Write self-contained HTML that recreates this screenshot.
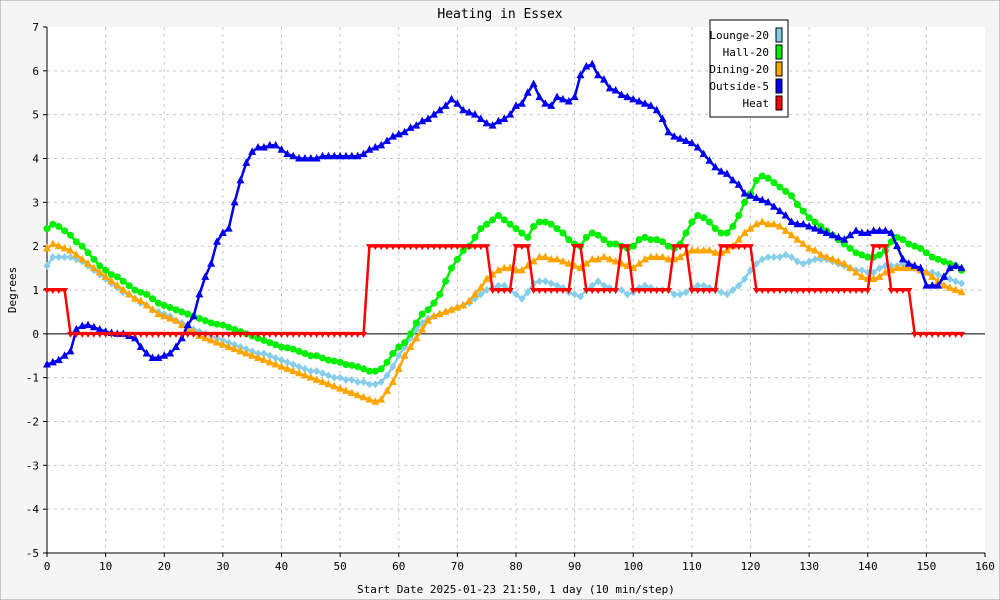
<!DOCTYPE html>
<html><head><meta charset="utf-8"><style>
html,body{margin:0;padding:0;background:#f5f5f5}
svg{display:block;font-family:"DejaVu Sans Mono","Liberation Mono",monospace}
</style></head><body>
<svg id="chart" width="1000" height="600" viewBox="0 0 1000 600">
<rect x="0" y="0" width="1000" height="600" fill="#f5f5f5" stroke="#999"/>
<rect x="47" y="27" width="938" height="526" fill="#ffffff"/>
<text x="500" y="18" text-anchor="middle" font-size="13">Heating in Essex</text>
<text x="516" y="593" text-anchor="middle" font-size="11">Start Date 2025-01-23 21:50, 1 day (10 min/step)</text>
<text x="16" y="290" text-anchor="middle" font-size="11" transform="rotate(-90 16 290)">Degrees</text>
<g id="grid"></g>
<g id="series"></g>
<g>
<rect x="710" y="20" width="78" height="97" fill="#fff" stroke="#000"/>
<g font-size="11" text-anchor="end">
<text x="769" y="39">Lounge-20</text>
<text x="769" y="56">Hall-20</text>
<text x="769" y="73">Dining-20</text>
<text x="769" y="90">Outside-5</text>
<text x="769" y="107">Heat</text>
</g>
<rect x="776" y="28" width="6" height="14" fill="#87ceeb" stroke="#000"/>
<rect x="776" y="45" width="6" height="14" fill="#00ee00" stroke="#000"/>
<rect x="776" y="62" width="6" height="14" fill="#ffa500" stroke="#000"/>
<rect x="776" y="79" width="6" height="14" fill="#0000ee" stroke="#000"/>
<rect x="776" y="96" width="6" height="14" fill="#ff0000" stroke="#000"/>
</g>
</svg>
<script>
const xTicks=[0,10,20,30,40,50,60,70,80,90,100,110,120,130,140,150,160];
const yTicks=[-5,-4,-3,-2,-1,0,1,2,3,4,5,6,7];
const outside=[-0.7,-0.65,-0.6,-0.5,-0.4,0.1,0.18,0.2,0.15,0.1,0.05,0.02,0,0,-0.05,-0.1,-0.3,-0.45,-0.55,-0.55,-0.5,-0.45,-0.3,-0.1,0.2,0.4,0.9,1.3,1.6,2.1,2.3,2.4,3.0,3.5,3.9,4.15,4.25,4.25,4.3,4.3,4.2,4.1,4.05,4.0,4.0,4.0,4.0,4.05,4.05,4.05,4.05,4.05,4.05,4.05,4.1,4.2,4.25,4.3,4.4,4.5,4.55,4.6,4.7,4.75,4.85,4.9,5.0,5.1,5.2,5.35,5.25,5.1,5.05,5.0,4.9,4.8,4.75,4.85,4.9,5.0,5.2,5.25,5.5,5.7,5.4,5.25,5.2,5.4,5.35,5.3,5.4,5.9,6.1,6.15,5.9,5.8,5.6,5.55,5.45,5.4,5.35,5.3,5.25,5.2,5.1,4.9,4.6,4.5,4.45,4.4,4.35,4.25,4.1,3.95,3.8,3.7,3.65,3.5,3.4,3.2,3.15,3.1,3.05,3.0,2.9,2.8,2.7,2.55,2.5,2.5,2.45,2.4,2.35,2.3,2.25,2.2,2.15,2.25,2.35,2.3,2.3,2.35,2.35,2.35,2.3,2.0,1.7,1.6,1.55,1.5,1.1,1.1,1.1,1.3,1.5,1.55,1.5];
const hall=[2.4,2.5,2.45,2.35,2.25,2.1,2.0,1.85,1.7,1.55,1.45,1.35,1.3,1.2,1.1,1.0,0.95,0.9,0.8,0.7,0.65,0.6,0.55,0.5,0.45,0.4,0.35,0.3,0.25,0.22,0.2,0.15,0.1,0.05,0,-0.05,-0.1,-0.15,-0.2,-0.25,-0.3,-0.32,-0.35,-0.4,-0.45,-0.5,-0.5,-0.55,-0.6,-0.62,-0.65,-0.7,-0.72,-0.75,-0.8,-0.85,-0.85,-0.8,-0.65,-0.45,-0.3,-0.2,0,0.25,0.45,0.55,0.7,0.9,1.2,1.5,1.7,1.9,2.0,2.2,2.4,2.5,2.6,2.7,2.6,2.5,2.4,2.3,2.2,2.45,2.55,2.55,2.5,2.4,2.3,2.15,2.05,2.0,2.2,2.3,2.25,2.15,2.05,2.05,2.0,1.95,2.0,2.15,2.2,2.15,2.15,2.1,2.0,1.95,2.05,2.3,2.55,2.7,2.65,2.55,2.4,2.3,2.3,2.45,2.7,3.0,3.2,3.5,3.6,3.55,3.45,3.35,3.25,3.15,2.95,2.8,2.65,2.55,2.45,2.35,2.25,2.15,2.05,1.95,1.85,1.8,1.75,1.75,1.8,1.9,2.1,2.2,2.15,2.05,2.0,1.95,1.85,1.75,1.7,1.65,1.6,1.55,1.45];
const dining=[1.95,2.05,2.0,1.95,1.9,1.8,1.7,1.6,1.5,1.4,1.3,1.2,1.1,1.0,0.9,0.8,0.75,0.65,0.55,0.45,0.4,0.35,0.3,0.2,0.1,0.05,-0.05,-0.1,-0.15,-0.2,-0.25,-0.3,-0.35,-0.4,-0.45,-0.5,-0.55,-0.6,-0.65,-0.7,-0.75,-0.8,-0.85,-0.9,-0.95,-1.0,-1.05,-1.1,-1.15,-1.2,-1.25,-1.3,-1.35,-1.4,-1.45,-1.5,-1.55,-1.5,-1.3,-1.1,-0.8,-0.5,-0.3,-0.1,0.1,0.3,0.4,0.45,0.5,0.55,0.6,0.65,0.75,0.9,1.05,1.25,1.35,1.45,1.5,1.5,1.45,1.45,1.55,1.65,1.75,1.75,1.7,1.7,1.65,1.6,1.55,1.5,1.6,1.7,1.7,1.75,1.7,1.65,1.6,1.55,1.5,1.6,1.7,1.75,1.75,1.75,1.7,1.7,1.75,1.85,1.9,1.9,1.9,1.9,1.85,1.85,1.9,2.0,2.15,2.3,2.4,2.5,2.55,2.5,2.5,2.45,2.35,2.25,2.15,2.05,1.95,1.9,1.8,1.75,1.7,1.65,1.6,1.5,1.4,1.3,1.25,1.25,1.3,1.4,1.45,1.5,1.5,1.5,1.5,1.45,1.4,1.3,1.2,1.1,1.05,1.0,0.95];
const lounge=[1.55,1.75,1.75,1.75,1.75,1.7,1.65,1.55,1.45,1.35,1.25,1.15,1.05,0.95,0.9,0.8,0.7,0.65,0.55,0.5,0.45,0.4,0.3,0.25,0.2,0.1,0.05,0,-0.05,-0.1,-0.15,-0.2,-0.25,-0.3,-0.35,-0.4,-0.45,-0.45,-0.5,-0.55,-0.6,-0.65,-0.7,-0.75,-0.8,-0.85,-0.85,-0.9,-0.95,-1.0,-1.0,-1.05,-1.05,-1.1,-1.1,-1.15,-1.15,-1.1,-0.95,-0.75,-0.5,-0.3,-0.1,0.1,0.25,0.35,0.4,0.45,0.5,0.55,0.6,0.65,0.7,0.8,0.9,1.0,1.05,1.1,1.1,1.0,0.9,0.8,0.95,1.15,1.2,1.2,1.15,1.1,1.05,0.95,0.9,0.85,1.0,1.1,1.2,1.1,1.05,1.0,1.0,0.9,0.95,1.05,1.1,1.05,1.0,1.0,1.0,0.9,0.9,0.95,1.05,1.1,1.1,1.05,1.0,0.95,0.9,1.0,1.1,1.25,1.45,1.6,1.7,1.75,1.75,1.75,1.8,1.75,1.65,1.6,1.65,1.7,1.7,1.7,1.65,1.6,1.55,1.5,1.45,1.45,1.4,1.4,1.5,1.55,1.55,1.55,1.6,1.55,1.5,1.45,1.4,1.4,1.35,1.3,1.25,1.2,1.15];
const heat=[1,1,1,1,0,0,0,0,0,0,0,0,0,0,0,0,0,0,0,0,0,0,0,0,0,0,0,0,0,0,0,0,0,0,0,0,0,0,0,0,0,0,0,0,0,0,0,0,0,0,0,0,0,0,0,2,2,2,2,2,2,2,2,2,2,2,2,2,2,2,2,2,2,2,2,2,1,1,1,1,2,2,2,1,1,1,1,1,1,1,2,2,1,1,1,1,1,1,2,2,1,1,1,1,1,1,1,2,2,2,1,1,1,1,1,2,2,2,2,2,2,1,1,1,1,1,1,1,1,1,1,1,1,1,1,1,1,1,1,1,1,2,2,2,1,1,1,1,0,0,0,0,0,0,0,0,0];
const NS='http://www.w3.org/2000/svg';
const X0=47,X1=985,Y0=553,Y1=27;
function sx(v){return X0+(v-0)/(160-0)*(X1-X0);}
function sy(v){return Y0-(v+5)/12*(Y0-Y1);}
function mk(tag,attrs,parent){const e=document.createElementNS(NS,tag);for(const k in attrs)e.setAttribute(k,attrs[k]);parent.appendChild(e);return e;}
const grid=document.getElementById('grid');
xTicks.forEach(t=>{
  const x=sx(t);
  if(t>0&&t<160){const l=mk('line',{x1:x,x2:x,y1:Y1,y2:Y0,stroke:'#c8c8c8','stroke-dasharray':'3,4'},grid);
  
  }
  mk('line',{x1:x,x2:x,y1:Y0,y2:Y0+4,stroke:'#000'},grid);
  const tx=mk('text',{x:x,y:Y0+17,'text-anchor':'middle','font-size':'11'},grid);tx.textContent=t;
  
  
});
yTicks.forEach(t=>{
  const y=sy(t);
  if(t>-5&&t<7){const l=mk('line',{x1:X0,x2:X1,y1:y,y2:y,stroke:'#c8c8c8','stroke-dasharray':'3,4'},grid);
  
  }
  mk('line',{x1:X0-4,x2:X0,y1:y,y2:y,stroke:'#000'},grid);
  const tx=mk('text',{x:X0-8,y:y+4,'text-anchor':'end','font-size':'11'},grid);tx.textContent=t;
  
  
});
const zl=mk('line',{x1:X0,x2:X1,y1:sy(0),y2:sy(0),stroke:'#000'},grid);


mk('line',{x1:X0,x2:X0,y1:Y1,y2:Y0,stroke:'#000'},grid);
mk('line',{x1:X0,x2:X1,y1:Y0,y2:Y0,stroke:'#000'},grid);
const sg=document.getElementById('series');
function marker(shape,x,y,c,g){
  let e;
  if(shape==='circle')e=mk('circle',{cx:x,cy:y,r:3.5,fill:c},g);
  else if(shape==='tri')e=mk('polygon',{points:`${x},${y-4.5} ${x-4},${y+3} ${x+4},${y+3}`,fill:c},g);
  else if(shape==='dtri')e=mk('polygon',{points:`${x},${y+4} ${x-3.5},${y-2} ${x+3.5},${y-2}`,fill:c},g);
  else e=mk('polygon',{points:`${x},${y-4} ${x-3.5},${y} ${x},${y+4} ${x+3.5},${y}`,fill:c},g);
  
  
}
function series(name,arr,c,shape){
  const g=mk('g',{},sg);
  
  
  const d=arr.map((v,i)=>(i?'L':'M')+sx(i).toFixed(1)+','+sy(v).toFixed(1)).join('');
  const p=mk('path',{d:d,fill:'none',stroke:c,'stroke-width':2.5},g);
  
  
  arr.forEach((v,i)=>marker(shape,sx(i),sy(v),c,g));
}
series('lounge',lounge,'#87ceeb','diamond');
series('hall',hall,'#00ee00','circle');
series('dining',dining,'#ffa500','tri');
series('outside',outside,'#0000ee','tri');
series('heat',heat,'#ff0000','dtri');
</script>
</body></html>
